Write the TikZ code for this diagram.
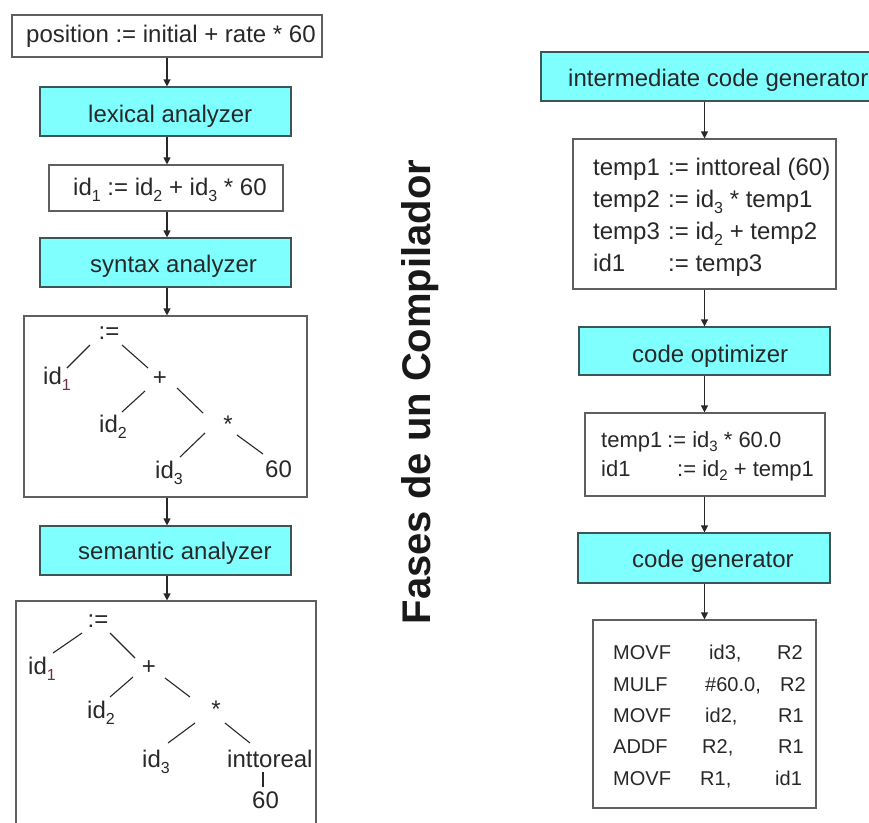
\documentclass[tikz,border=0pt]{standalone}
\usepackage{fontspec}
\setmainfont{Liberation Sans}
\usetikzlibrary{arrows.meta,calc}
\definecolor{cyanfill}{RGB}{128,255,255}
\definecolor{txt}{RGB}{40,40,40}
\definecolor{wborder}{RGB}{95,95,95}
\definecolor{cborder}{RGB}{60,85,85}
\definecolor{subred}{RGB}{110,45,70}
\newcommand\sbs[1]{\raisebox{-6pt}{\fontsize{16}{16}\selectfont #1}}
\newcommand\sbsb[1]{\raisebox{-4pt}{\fontsize{15}{15}\selectfont #1}}
\begin{document}
\begin{tikzpicture}[x=1pt,y=-1pt,
  wbox/.style={draw=wborder,line width=1.2pt,fill=white,inner sep=0pt},
  cbox/.style={draw=cborder,line width=1.2pt,fill=cyanfill,inner sep=0pt},
  lbl/.style={inner sep=0pt,anchor=base west,text=txt,font=\fontsize{24}{28}\selectfont},
  lblc/.style={lbl,anchor=base},
  mid/.style={lbl,font=\fontsize{22}{26}\selectfont},
  small/.style={lbl,font=\fontsize{20}{24}\selectfont},
  flow/.style={draw=txt,line width=1.2pt,-{Triangle[length=7pt,width=7pt]}},
  edge/.style={draw=txt,line width=1.1pt}]
\useasboundingbox (0,0) rectangle (869,822);
\clip (0,0) rectangle (869,822);

% ---------------- left column boxes
\node[wbox,minimum width=310,minimum height=42] (b1) at (167,36) {};
\node[cbox,minimum width=251,minimum height=49] (lex) at (165.5,111.5) {};
\node[wbox,minimum width=234,minimum height=46] (idb) at (166,188) {};
\node[cbox,minimum width=251,minimum height=49] (syn) at (165.5,262.5) {};
\node[wbox,minimum width=283,minimum height=181] (tree1) at (165.5,406.5) {};
\node[cbox,minimum width=251,minimum height=49] (sem) at (165.5,550.5) {};
\node[wbox,minimum width=300,minimum height=239] (tree2) at (166,720.5) {};

\node[lbl] (tb1) at (26,42) {position := initial + rate * 60};
\node[lbl] (tlex) at (88,122) {lexical analyzer};
\node[lbl] (tidb) at (73,195) {id\sbs{1} := id\sbs{2} + id\sbs{3} * 60};
\node[lbl] (tsyn) at (90,272) {syntax analyzer};
\node[lbl] (tsem) at (78,559) {semantic analyzer};

\draw[flow] (b1.south) -- (b1.south |- lex.north);
\draw[flow] (b1.south |- lex.south) -- (b1.south |- idb.north);
\draw[flow] (b1.south |- idb.south) -- (b1.south |- syn.north);
\draw[flow] (b1.south |- syn.south) -- (b1.south |- tree1.north);
\draw[flow] (b1.south |- tree1.south) -- (b1.south |- sem.north);
\draw[flow] (b1.south |- sem.south) -- (b1.south |- tree2.north);

% ---------------- syntax tree
\node[lblc] (s-as) at (109,339) {:=};
\node[lbl] (s-id1) at (43,384) {id\sbs{\textcolor{subred}{1}}};
\node[lblc] (s-plus) at (160,385) {+};
\node[lbl] (s-id2) at (99,432) {id\sbs{2}};
\node[lblc] (s-mul) at (228,432) {*};
\node[lbl] (s-id3) at (155,478) {id\sbs{3}};
\node[lbl] (s-60) at (265,477) {60};
\coordinate (sa1) at (90,345); \coordinate (sa2) at (67,368);
\coordinate (sb1) at (122,345); \coordinate (sb2) at (148,368);
\coordinate (sc1) at (145,391); \coordinate (sc2) at (122,412);
\coordinate (sd1) at (177,388); \coordinate (sd2) at (203,413);
\coordinate (se1) at (205,433); \coordinate (se2) at (180,457);
\coordinate (sf1) at (237,435); \coordinate (sf2) at (263,454);
\draw[edge] (sa1) -- (sa2);
\draw[edge] (sb1) -- (sb2);
\draw[edge] (sc1) -- (sc2);
\draw[edge] (sd1) -- (sd2);
\draw[edge] (se1) -- (se2);
\draw[edge] (sf1) -- (sf2);

% ---------------- semantic tree
\node[lblc] (m-as) at (98,627) {:=};
\node[lbl] (m-id1) at (28,674) {id\sbs{\textcolor{subred}{1}}};
\node[lblc] (m-plus) at (149,674) {+};
\node[lbl] (m-id2) at (87,718) {id\sbs{2}};
\node[lblc] (m-mul) at (216,717) {*};
\node[lbl] (m-id3) at (142,767) {id\sbs{3}};
\node[lbl] (m-itr) at (227,767) {inttoreal};
\node[lbl] (m-60) at (252,808) {60};
\coordinate (ma1) at (82,633); \coordinate (ma2) at (53,653);
\coordinate (mb1) at (110,633); \coordinate (mb2) at (135,658);
\coordinate (mc1) at (133,677); \coordinate (mc2) at (110,697);
\coordinate (md1) at (165,678); \coordinate (md2) at (190,697);
\coordinate (me1) at (195,723); \coordinate (me2) at (168,743);
\coordinate (mf1) at (225,723); \coordinate (mf2) at (250,743);
\coordinate (mg1) at (263,772); \coordinate (mg2) at (263,787);
\draw[edge] (ma1) -- (ma2);
\draw[edge] (mb1) -- (mb2);
\draw[edge] (mc1) -- (mc2);
\draw[edge] (md1) -- (md2);
\draw[edge] (me1) -- (me2);
\draw[edge] (mf1) -- (mf2);
\draw[edge] (mg1) -- (mg2);

% ---------------- title
\node[rotate=90,anchor=base,inner sep=0pt,text=black!90,
      font=\bfseries\fontsize{40}{48}\selectfont] (title) at (430,392) {Fases de un Compilador};

% ---------------- right column boxes
\node[cbox,minimum width=344,minimum height=49] (icg) at (713,76.5) {};
\node[wbox,minimum width=263,minimum height=150] (tmp) at (704.5,214) {};
\node[cbox,minimum width=251,minimum height=48] (opt) at (704.5,351) {};
\node[wbox,minimum width=240,minimum height=83] (o2) at (705,454.5) {};
\node[cbox,minimum width=252,minimum height=50] (cg) at (704,558) {};
\node[wbox,minimum width=223,minimum height=188] (mov) at (704.5,714) {};

\draw[flow] (tmp.north |- icg.south) -- (tmp.north);
\draw[flow] (tmp.south) -- (tmp.south |- opt.north);
\draw[flow] (tmp.south |- opt.south) -- (tmp.south |- o2.north);
\draw[flow] (tmp.south |- o2.south) -- (tmp.south |- cg.north);
\draw[flow] (tmp.south |- cg.south) -- (tmp.south |- mov.north);

\node[lbl] (ticg) at (568,86) {intermediate code generator};
\node[lbl] (tt1) at (593,175) {\makebox[75pt][l]{temp1}:= inttoreal (60)};
\node[lbl] (tt2) at (593,207) {\makebox[75pt][l]{temp2}:= id\sbs{3} * temp1};
\node[lbl] (tt3) at (593,239) {\makebox[75pt][l]{temp3}:= id\sbs{2} + temp2};
\node[lbl] (tt4) at (593,271) {\makebox[75pt][l]{id1}:= temp3};
\node[lbl] (topt) at (632,362) {code optimizer};
\node[mid] (to1) at (601,447) {\makebox[66pt][l]{temp1}:= id\sbsb{3} * 60.0};
\node[mid] (to2) at (601,476) {\makebox[76pt][l]{id1}:= id\sbsb{2} + temp1};
\node[lbl] (tcg) at (632,567) {code generator};

% ---------------- target code
\node[small] (c11) at (613,659) {MOVF};
\node[small] (c12) at (709,659) {id3,};
\node[small] (c13) at (777,659) {R2};
\node[small] (c21) at (613,691) {MULF};
\node[small] (c22) at (705,691) {\#60.0,};
\node[small] (c23) at (780,691) {R2};
\node[small] (c31) at (613,722) {MOVF};
\node[small] (c32) at (705,722) {id2,};
\node[small] (c33) at (778,722) {R1};
\node[small] (c41) at (613,753) {ADDF};
\node[small] (c42) at (702,753) {R2,};
\node[small] (c43) at (778,753) {R1};
\node[small] (c51) at (613,785) {MOVF};
\node[small] (c52) at (700,785) {R1,};
\node[small] (c53) at (775,785) {id1};
\end{tikzpicture}
\end{document}
